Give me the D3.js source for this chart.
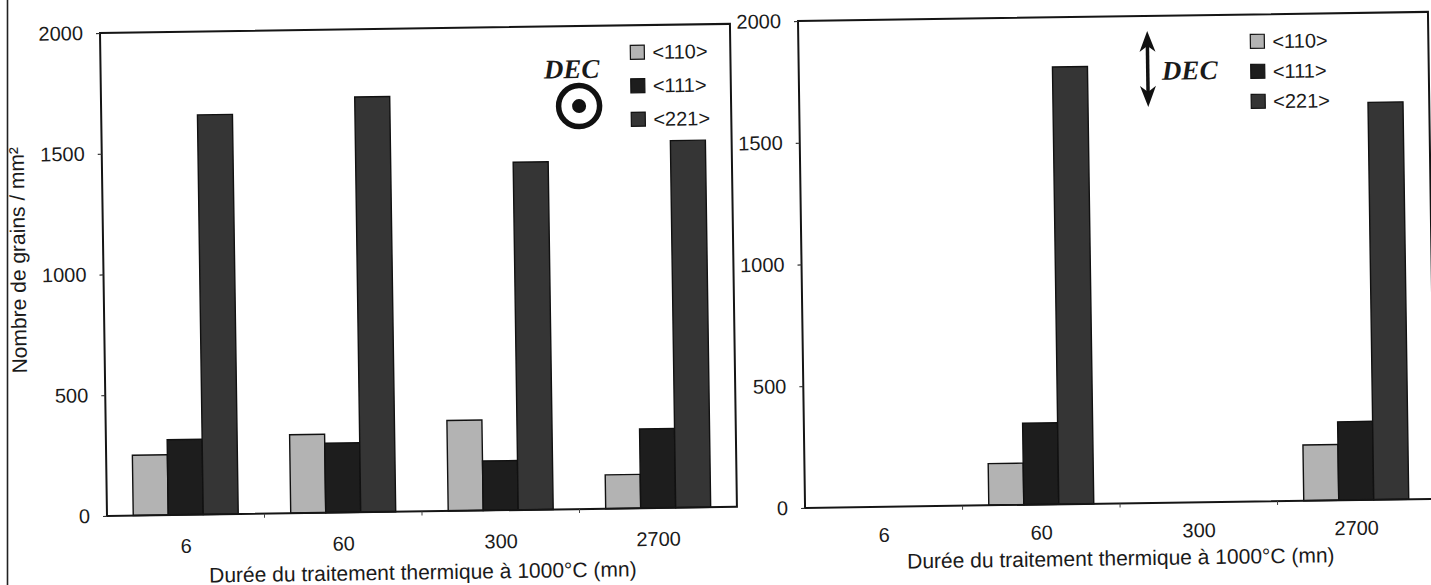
<!DOCTYPE html>
<html>
<head>
<meta charset="utf-8">
<script src="https://cdn.jsdelivr.net/npm/d3@7"></script>
<style>
  html, body { margin: 0; padding: 0; background: #ffffff; }
  svg { display: block; }
  text { font-family: "Liberation Sans", Arial, sans-serif; fill: #1a1a1a; }
</style>
</head>
<body>
<svg id="chart" width="1431" height="585"></svg>
<script>
// ---- data ----
const categories = ["6", "60", "300", "2700"];
const seriesNames = ["<110>", "<111>", "<221>"];
const yTicks = [0, 500, 1000, 1500, 2000];

// left panel (DEC perpendicular to the plane)
const left110 = [250, 325, 375, 140];
const left111 = [312, 288, 205, 328];
const left221 = [1655, 1720, 1440, 1520];

// right panel (DEC in the plane)
const right110 = [null, 171, null, 229];
const right111 = [null, 335, null, 322];
const right221 = [null, 1796, null, 1632];

const xTitle = "Durée du traitement thermique à 1000°C (mn)";
const yTitle = "Nombre de grains / mm²";

// ---- styles ----
const colors = { "<110>": "#b3b3b3", "<111>": "#1d1d1d", "<221>": "#353535" };
const tilt = -0.83;

const svg = d3.select("#chart");

// page edge line at left
svg.append("line").attr("x1", 7.5).attr("x2", 7.5).attr("y1", 0).attr("y2", 585)
  .attr("stroke", "#222").attr("stroke-width", 1.6);

function drawPanel(cfg) {
  const W = 630, H = cfg.height;
  const g = svg.append("g").attr("transform", `translate(${cfg.x},${cfg.y}) rotate(${tilt})`);

  const x0 = d3.scaleBand().domain(categories).range([0, W]).paddingInner(1/3).paddingOuter(1/6);
  const x1 = d3.scaleBand().domain(seriesNames).range([0, x0.bandwidth()]).padding(0);
  const y = d3.scaleLinear().domain([0, 2000]).range([H, 0]);

  const rows = categories.map((c, i) => ({
    cat: c,
    vals: [
      { s: "<110>", v: cfg.s110[i] },
      { s: "<111>", v: cfg.s111[i] },
      { s: "<221>", v: cfg.s221[i] }
    ]
  }));

  // bars
  const grp = g.selectAll("g.grp").data(rows).enter().append("g")
    .attr("class", "grp").attr("transform", d => `translate(${x0(d.cat)},0)`);
  grp.selectAll("rect").data(d => d.vals.filter(v => v.v != null)).enter().append("rect")
    .attr("x", d => x1(d.s))
    .attr("width", x1.bandwidth())
    .attr("y", d => y(d.v))
    .attr("height", d => H - y(d.v))
    .attr("fill", d => colors[d.s])
    .attr("stroke", "#111").attr("stroke-width", 1.4);

  // frame
  g.append("rect").attr("x", 0).attr("y", 0).attr("width", W).attr("height", H)
    .attr("fill", "none").attr("stroke", "#151515").attr("stroke-width", 2);

  // y axis
  const ya = g.append("g").call(d3.axisLeft(y).tickValues(yTicks).tickSize(4).tickPadding(13).tickFormat(d3.format("d")));
  ya.select(".domain").remove();
  ya.selectAll(".tick line").attr("stroke", "#333").attr("stroke-width", 1.2);
  ya.selectAll(".tick text").style("font-size", "20px").attr("fill", "#1a1a1a");

  // x axis: small ticks at band boundaries and labels at band centres
  const bounds = categories.slice(1).map(c => x0(c) - x0.step() * x0.paddingInner() / 2);
  g.selectAll("line.xt").data(bounds).enter().append("line")
    .attr("x1", d => d).attr("x2", d => d).attr("y1", H).attr("y2", H + 4)
    .attr("stroke", "#444").attr("stroke-width", 1);
  g.selectAll("text.xl").data(categories).enter().append("text")
    .attr("x", d => x0(d) + x0.bandwidth() / 2)
    .attr("y", H + cfg.labelOffset)
    .attr("text-anchor", "middle")
    .style("font-size", "20px")
    .text(d => d);

  g.append("text").attr("x", W / 2).attr("y", H + cfg.titleOffset)
    .attr("text-anchor", "middle").style("font-size", "21px").text(xTitle);

  // legend
  const lg = g.append("g").attr("transform", `translate(${cfg.legX},${cfg.legY})`);
  seriesNames.forEach((s, i) => {
    lg.append("rect").attr("x", 0).attr("y", i * cfg.legStep).attr("width", 14).attr("height", 14)
      .attr("fill", colors[s]).attr("stroke", "#111").attr("stroke-width", 1.2);
    lg.append("text").attr("x", 22).attr("y", i * cfg.legStep + 14)
      .style("font-size", "20px").text(s);
  });

  return g;
}

// left panel
const gl = drawPanel({ x: 100, y: 33, height: 483, s110: left110, s111: left111, s221: left221,
  labelOffset: 38, titleOffset: 68, legX: 530, legY: 20, legStep: 33.5 });
gl.append("text").attr("x", 471).attr("y", 52).attr("text-anchor", "middle")
  .style("font-family", "'Liberation Serif', 'Times New Roman', serif")
  .style("font-weight", "bold").style("font-style", "italic").style("font-size", "27px").text("DEC");
gl.append("circle").attr("cx", 478).attr("cy", 80).attr("r", 20.5)
  .attr("fill", "none").attr("stroke", "#111").attr("stroke-width", 5.5);
gl.append("circle").attr("cx", 478).attr("cy", 80).attr("r", 7).attr("fill", "#111");
gl.append("text").attr("transform", "translate(-78,226) rotate(-90)")
  .attr("text-anchor", "middle").style("font-size", "21px").text(yTitle);

// right panel
const gr = drawPanel({ x: 798, y: 21, height: 487, s110: right110, s111: right111, s221: right221,
  labelOffset: 35, titleOffset: 62, legX: 452, legY: 20, legStep: 30 });
// double-headed arrow
const ax = 349, ay1 = 15, ay2 = 91;
gr.append("line").attr("x1", ax).attr("x2", ax).attr("y1", ay1 + 10).attr("y2", ay2 - 10)
  .attr("stroke", "#111").attr("stroke-width", 3.5);
gr.append("path").attr("d", `M${ax},${ay1} L${ax - 8},${ay1 + 21} L${ax},${ay1 + 15} L${ax + 8},${ay1 + 21} Z`).attr("fill", "#111");
gr.append("path").attr("d", `M${ax},${ay2} L${ax - 8},${ay2 - 21} L${ax},${ay2 - 15} L${ax + 8},${ay2 - 21} Z`).attr("fill", "#111");
gr.append("text").attr("x", 391).attr("y", 64).attr("text-anchor", "middle")
  .style("font-family", "'Liberation Serif', 'Times New Roman', serif")
  .style("font-weight", "bold").style("font-style", "italic").style("font-size", "27px").text("DEC");
</script>
</body>
</html>
